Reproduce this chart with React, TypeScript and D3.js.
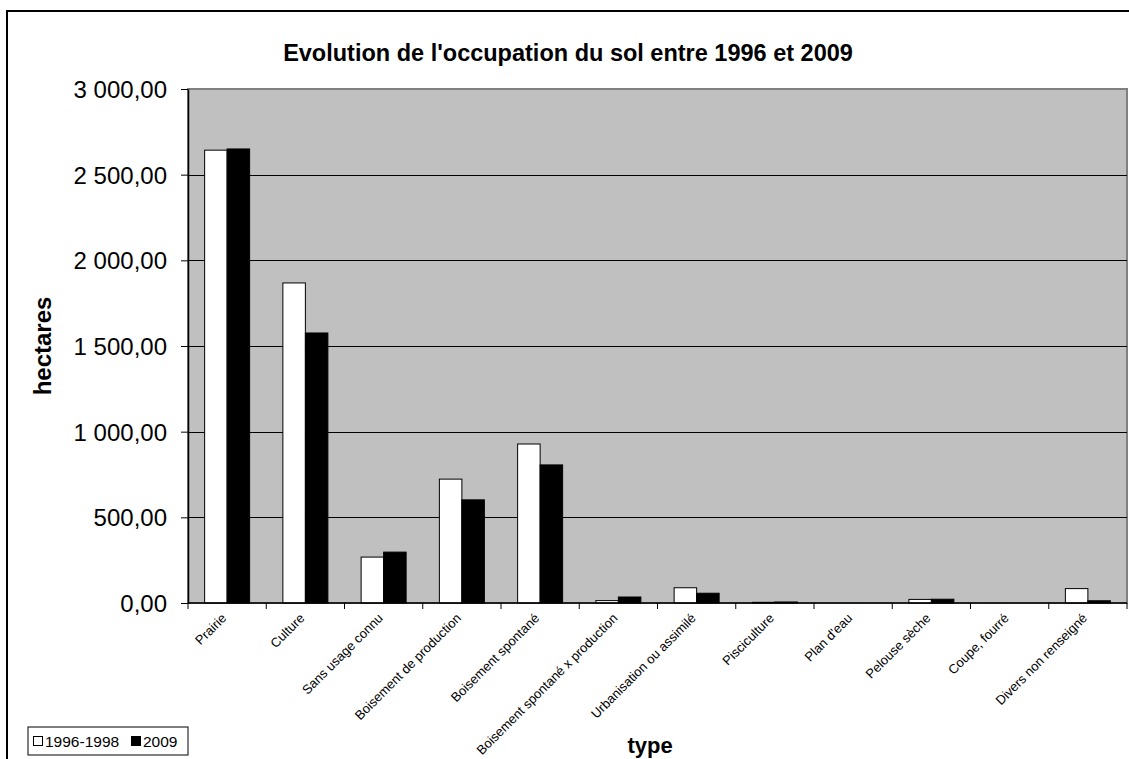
import * as d3 from "d3";
import { useEffect, useRef } from "react";

const categories = [
  "Prairie",
  "Culture",
  "Sans usage connu",
  "Boisement de production",
  "Boisement spontané",
  "Boisement spontané x production",
  "Urbanisation ou assimilé",
  "Pisciculture",
  "Plan d'eau",
  "Pelouse sèche",
  "Coupe, fourré",
  "Divers non renseigné",
];
const values1996 = [2643, 1868, 268, 723, 928, 14, 89, 4, 0, 21, 0, 84];
const values2009 = [2650, 1576, 297, 602, 806, 35, 57, 6, 0, 22, 0, 13];
const seriesNames = ["1996-1998", "2009"];
const yTicks = [0, 500, 1000, 1500, 2000, 2500, 3000];

const W = 1129;
const H = 759;
const FONT = "'Liberation Sans', Arial, sans-serif";

export default function App() {
  const svgRef = useRef<SVGSVGElement | null>(null);

  useEffect(() => {
    if (!svgRef.current) return;
    const svg = d3.select(svgRef.current);
    svg.selectAll("*").remove();

    const left = 188, right = 1127, top = 89, bottom = 603;

    // chart frame
    svg.append("rect")
      .attr("x", 7).attr("y", 11)
      .attr("width", W + 20).attr("height", H + 20)
      .attr("fill", "#fff").attr("stroke", "#000").attr("stroke-width", 2);

    svg.append("text")
      .attr("x", 568).attr("y", 61)
      .attr("text-anchor", "middle")
      .attr("font-family", FONT).attr("font-weight", "bold").attr("font-size", 23.5)
      .text("Evolution de l'occupation du sol entre 1996 et 2009");

    const x = d3.scaleBand<string>().domain(categories).range([left, right]).paddingInner(0).paddingOuter(0);
    const y = d3.scaleLinear().domain([0, 3000]).range([bottom, top]);

    // plot area
    svg.append("rect")
      .attr("x", left).attr("y", top)
      .attr("width", right - left).attr("height", bottom - top)
      .attr("fill", "#c0c0c0").attr("stroke", "#808080").attr("stroke-width", 2);

    // gridlines
    svg.append("g")
      .selectAll("line")
      .data(yTicks.filter((t) => t > 0 && t < 3000))
      .join("line")
      .attr("x1", left).attr("x2", right)
      .attr("y1", (d) => Math.round(y(d)) + 0.5).attr("y2", (d) => Math.round(y(d)) + 0.5)
      .attr("stroke", "#000").attr("stroke-width", 1);

    // bars
    const bw = x.bandwidth();
    const barW = 22.5;
    const gap = (bw - 2 * barW) / 2;
    const series = [values1996, values2009];
    const fills = ["#fff", "#000"];
    series.forEach((vals, si) => {
      svg.append("g")
        .selectAll("rect")
        .data(vals.map((v, i) => ({ v, c: categories[i] })))
        .join("rect")
        .filter((d) => d.v > 0)
        .attr("x", (d) => (x(d.c) as number) + gap + si * barW)
        .attr("y", (d) => y(d.v))
        .attr("width", barW)
        .attr("height", (d) => bottom - y(d.v))
        .attr("fill", fills[si])
        .attr("stroke", "#000").attr("stroke-width", 1);
    });

    // y axis
    const fmt = (v: number) => d3.format(",.2f")(v).replace(/,/g, " ").replace(".", ",");
    const yAxis = svg.append("g")
      .attr("transform", `translate(${left},0)`)
      .call(d3.axisLeft(y).tickValues(yTicks).tickSize(7).tickSizeOuter(0).tickFormat((d) => fmt(d as number)));
    yAxis.select(".domain").attr("stroke", "#000").attr("stroke-width", 1.5);
    yAxis.selectAll("line").attr("stroke", "#000");
    yAxis.selectAll("text")
      .attr("font-family", FONT).attr("font-size", 24).attr("fill", "#000")
      .attr("x", -21).attr("dy", "0.36em");

    // x axis
    const xAxis = svg.append("g").attr("transform", `translate(0,${bottom})`);
    xAxis.append("line")
      .attr("x1", left).attr("x2", right).attr("y1", 0).attr("y2", 0)
      .attr("stroke", "#000").attr("stroke-width", 1.5);
    xAxis.selectAll("line.tick")
      .data([...categories, "end"])
      .join("line")
      .attr("class", "tick")
      .attr("x1", (_, i) => left + i * bw).attr("x2", (_, i) => left + i * bw)
      .attr("y1", 0).attr("y2", 6)
      .attr("stroke", "#000");
    xAxis.selectAll("text")
      .data(categories)
      .join("text")
      .attr("transform", (d) => `translate(${(x(d) as number) + bw / 2},16) rotate(-45)`)
      .attr("text-anchor", "end")
      .attr("font-family", FONT).attr("font-size", 13)
      .text((d) => d);

    // axis titles
    svg.append("text")
      .attr("transform", `translate(51,${(top + bottom) / 2}) rotate(-90)`)
      .attr("text-anchor", "middle")
      .attr("font-family", FONT).attr("font-weight", "bold").attr("font-size", 24)
      .text("hectares");
    svg.append("text")
      .attr("x", 650).attr("y", 753)
      .attr("text-anchor", "middle")
      .attr("font-family", FONT).attr("font-weight", "bold").attr("font-size", 22)
      .text("type");

    // legend
    const lg = svg.append("g").attr("transform", "translate(28,727)");
    lg.append("rect")
      .attr("x", 0).attr("y", 0).attr("width", 160).attr("height", 28)
      .attr("fill", "#fff").attr("stroke", "#000").attr("stroke-width", 1);
    const items = lg.selectAll("g")
      .data(seriesNames)
      .join("g")
      .attr("transform", (_, i) => `translate(${5 + i * 98},0)`);
    items.append("rect")
      .attr("x", 0.5).attr("y", 9.5).attr("width", 9).attr("height", 9)
      .attr("fill", (_, i) => fills[i]).attr("stroke", "#000");
    items.append("text")
      .attr("x", 12).attr("y", 19.5)
      .attr("font-family", FONT).attr("font-size", 15.5)
      .text((d) => d);
  }, []);

  return (
    <svg
      ref={svgRef}
      width={W}
      height={H}
      style={{ position: "absolute", left: 0, top: 0, background: "#fff" }}
    ></svg>
  );
}
